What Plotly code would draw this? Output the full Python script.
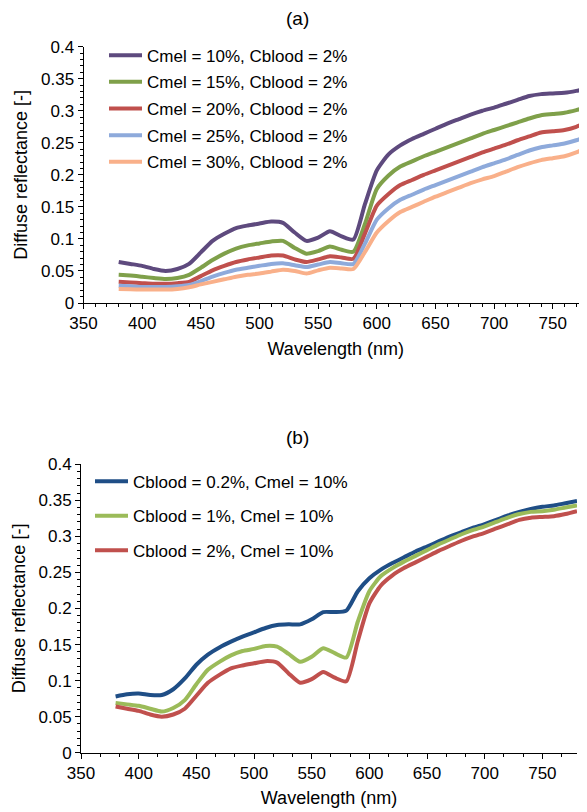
import plotly.graph_objects as go

wavelength = list(range(380, 790, 10))

# Panel (a): Cblood = 2%, varying Cmel ; Panel (b): Cmel = 10%, varying Cblood
cmel10_cblood2 = [0.064, 0.061, 0.058, 0.053, 0.050, 0.053, 0.061, 0.079, 0.097, 0.108,
                  0.117, 0.121, 0.124, 0.127, 0.125, 0.110, 0.097, 0.102, 0.112, 0.104,
                  0.099, 0.155, 0.207, 0.232, 0.246, 0.256, 0.264, 0.272, 0.280, 0.287,
                  0.294, 0.300, 0.305, 0.311, 0.317, 0.323, 0.326, 0.327, 0.328, 0.331, 0.335]
cmel15_cblood2 = [0.044, 0.043, 0.041, 0.039, 0.0375, 0.039, 0.044, 0.055, 0.067, 0.077,
                  0.085, 0.090, 0.093, 0.096, 0.097, 0.086, 0.077, 0.081, 0.088, 0.083,
                  0.080, 0.124, 0.178, 0.199, 0.213, 0.221, 0.229, 0.236, 0.243, 0.250,
                  0.257, 0.264, 0.270, 0.276, 0.282, 0.288, 0.293, 0.295, 0.297, 0.301, 0.306]
cmel20_cblood2 = [0.033, 0.032, 0.031, 0.030, 0.030, 0.031, 0.033, 0.042, 0.051, 0.058,
                  0.064, 0.068, 0.071, 0.074, 0.074, 0.068, 0.064, 0.068, 0.073, 0.071,
                  0.069, 0.109, 0.152, 0.170, 0.184, 0.192, 0.200, 0.207, 0.214, 0.221,
                  0.228, 0.235, 0.241, 0.247, 0.254, 0.260, 0.266, 0.268, 0.270, 0.275, 0.283]
cmel25_cblood2 = [0.027, 0.026, 0.025, 0.025, 0.025, 0.026, 0.028, 0.034, 0.041, 0.047,
                  0.052, 0.055, 0.058, 0.061, 0.062, 0.059, 0.056, 0.060, 0.064, 0.062,
                  0.061, 0.093, 0.130, 0.148, 0.161, 0.169, 0.177, 0.184, 0.191, 0.198,
                  0.205, 0.212, 0.218, 0.224, 0.231, 0.238, 0.243, 0.246, 0.249, 0.254, 0.261]
cmel30_cblood2 = [0.022, 0.0215, 0.021, 0.021, 0.021, 0.022, 0.0245, 0.029, 0.033, 0.037,
                  0.041, 0.044, 0.046, 0.049, 0.052, 0.050, 0.046, 0.051, 0.055, 0.054,
                  0.053, 0.080, 0.110, 0.128, 0.142, 0.150, 0.158, 0.166, 0.173, 0.180,
                  0.187, 0.193, 0.198, 0.205, 0.212, 0.218, 0.223, 0.226, 0.229, 0.235, 0.243]

cblood02_cmel10 = [0.078, 0.081, 0.082, 0.080, 0.080, 0.088, 0.103, 0.122, 0.136, 0.146,
                   0.154, 0.161, 0.167, 0.173, 0.177, 0.178, 0.178, 0.185, 0.195, 0.195,
                   0.197, 0.224, 0.242, 0.254, 0.263, 0.271, 0.279, 0.286, 0.293, 0.300,
                   0.306, 0.312, 0.317, 0.323, 0.329, 0.334, 0.338, 0.341, 0.343, 0.346, 0.349]
cblood1_cmel10 = [0.069, 0.067, 0.065, 0.061, 0.057, 0.062, 0.073, 0.095, 0.115, 0.126,
                  0.135, 0.141, 0.144, 0.148, 0.147, 0.137, 0.126, 0.133, 0.145, 0.138,
                  0.132, 0.182, 0.224, 0.245, 0.256, 0.265, 0.273, 0.281, 0.289, 0.296,
                  0.303, 0.309, 0.314, 0.320, 0.326, 0.331, 0.334, 0.335, 0.337, 0.340, 0.343]
cblood2_cmel10 = cmel10_cblood2

names_a = ["Cmel = 10%, Cblood = 2%", "Cmel = 15%, Cblood = 2%", "Cmel = 20%, Cblood = 2%",
           "Cmel = 25%, Cblood = 2%", "Cmel = 30%, Cblood = 2%"]
series_a = [cmel10_cblood2, cmel15_cblood2, cmel20_cblood2, cmel25_cblood2, cmel30_cblood2]
colors_a = ["#5E4A7E", "#7FA04A", "#C0504D", "#8EAADB", "#F9B08A"]

names_b = ["Cblood = 0.2%, Cmel = 10%", "Cblood = 1%, Cmel = 10%", "Cblood = 2%, Cmel = 10%"]
series_b = [cblood02_cmel10, cblood1_cmel10, cblood2_cmel10]
colors_b = ["#1F4E86", "#9BBB59", "#C0504D"]

x_ticks = [350, 400, 450, 500, 550, 600, 650, 700, 750]
y_ticks = [0, 0.05, 0.1, 0.15, 0.2, 0.25, 0.3, 0.35, 0.4]
y_ticklabels = ["0", "0.05", "0.1", "0.15", "0.2", "0.25", "0.3", "0.35", "0.4"]

W, H = 587, 812
OFF = 8  # the page body adds an 8px margin around the figure
FONT = "Liberation Sans, Arial, sans-serif"
TICKFONT = dict(family=FONT, size=17, color="#000000")
TITLEFONT = dict(family=FONT, size=18, color="#000000")
LEGFONT = dict(family=FONT, size=17, color="#000000")


def px_x(v):
    return (v - OFF) / W


def px_y(v):
    return 1 - (v - OFF) / H


# legend item centres (screen pixels from top) and text left positions
leg_a_y = [55.7, 82.3, 109.0, 135.7, 162.3]
leg_b_y = [481.7, 516.3, 550.7]
leg_a_text_x = 148
leg_b_text_x = 134
TEXT_OFFSET = 44

fig = go.Figure()
layout_legends = {}
k = 1
for n, s, c, ly in zip(names_a, series_a, colors_a, leg_a_y):
    lname = "legend" if k == 1 else f"legend{k}"
    fig.add_trace(go.Scatter(x=wavelength, y=s, name=n, mode="lines",
                             line=dict(color=c, width=4, shape="spline", smoothing=0.6),
                             xaxis="x", yaxis="y", legend=lname))
    layout_legends[lname] = dict(x=px_x(leg_a_text_x - TEXT_OFFSET), y=px_y(ly),
                                 xanchor="left", yanchor="middle",
                                 bgcolor="rgba(0,0,0,0)", font=LEGFONT, itemwidth=33)
    k += 1
for n, s, c, ly in zip(names_b, series_b, colors_b, leg_b_y):
    lname = f"legend{k}"
    fig.add_trace(go.Scatter(x=wavelength, y=s, name=n, mode="lines",
                             line=dict(color=c, width=4, shape="spline", smoothing=0.6),
                             xaxis="x2", yaxis="y2", legend=lname))
    layout_legends[lname] = dict(x=px_x(leg_b_text_x - TEXT_OFFSET), y=px_y(ly),
                                 xanchor="left", yanchor="middle",
                                 bgcolor="rgba(0,0,0,0)", font=LEGFONT, itemwidth=33)
    k += 1


def xaxis(domain, anchor, minor_dtick):
    return dict(domain=domain, range=[350, 780], tickvals=x_ticks, anchor=anchor,
                showline=True, linecolor="#000000", linewidth=1, ticks="outside",
                ticklen=5, tickcolor="#000000", showgrid=False, zeroline=False,
                tickfont=TICKFONT, automargin=False,
                minor=dict(ticks="outside", ticklen=3, tickcolor="#000000", dtick=minor_dtick),
                title=dict(text="Wavelength (nm)", font=TITLEFONT, standoff=9))


def yaxis(domain, anchor):
    return dict(domain=domain, range=[0, 0.4], tickvals=y_ticks, ticktext=y_ticklabels, anchor=anchor,
                showline=True, linecolor="#000000", linewidth=1, ticks="outside",
                ticklen=5, tickcolor="#000000", showgrid=False, zeroline=False,
                tickfont=TICKFONT, automargin=False,
                minor=dict(ticks="outside", ticklen=3, tickcolor="#000000", dtick=0.01),
                title=dict(text="Diffuse reflectance [-]", font=TITLEFONT, standoff=8))


fig.update_layout(
    width=W, height=H,
    margin=dict(l=0, r=0, t=0, b=0, autoexpand=False),
    plot_bgcolor="white", paper_bgcolor="white",
    showlegend=True,
    xaxis=xaxis([px_x(83.5), min(1.0, px_x(588))], "y", 10),
    yaxis=yaxis([px_y(303), px_y(46.7)], "x"),
    xaxis2=xaxis([px_x(81), px_x(577)], "y2", 50 / 3),
    yaxis2=yaxis([px_y(752.7), px_y(464.3)], "x2"),
    annotations=[
        dict(text="(a)", x=px_x(297), y=px_y(18), xref="paper", yref="paper", showarrow=False,
             xanchor="center", yanchor="middle", font=dict(family=FONT, size=19, color="#000")),
        dict(text="(b)", x=px_x(297), y=px_y(437), xref="paper", yref="paper", showarrow=False,
             xanchor="center", yanchor="middle", font=dict(family=FONT, size=19, color="#000")),
    ],
    **layout_legends,
)

fig.write_html("out.html")
